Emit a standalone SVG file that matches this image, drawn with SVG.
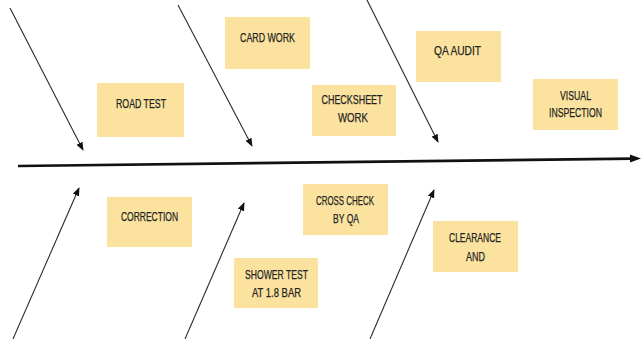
<svg xmlns="http://www.w3.org/2000/svg" width="641" height="339" viewBox="0 0 641 339">
  <style>
    .box { fill: #fbe29f; }
    .lbl { font-family: "Liberation Sans", Arial, sans-serif; font-size: 13.5px; fill: #222222; text-anchor: middle; stroke: #222222; stroke-width: 0.25; }
    .bone { stroke: #2b2b2b; stroke-width: 1.1; fill: none; marker-end: url(#tip); }
    .spine { stroke: #111; stroke-width: 2.6; fill: none; }
  </style>
  <defs>
    <marker id="tip" viewBox="0 0 10 8" refX="9" refY="4" markerWidth="8.5" markerHeight="7" markerUnits="userSpaceOnUse" orient="auto">
      <path d="M0,0 L10,4 L0,8 Z" fill="#111"/>
    </marker>
  </defs>
  <rect width="641" height="339" fill="#ffffff"/>

  <g id="connectors">
    <line class="spine" x1="18" y1="166" x2="633" y2="158.6"/>
    <path d="M630,154.5 L641,158.5 L630,162.5 Z" fill="#111"/>
    <line class="bone" x1="10" y1="8" x2="83" y2="150"/>
    <line class="bone" x1="178" y1="5" x2="252" y2="146"/>
    <line class="bone" x1="367" y1="0" x2="438" y2="142"/>
    <line class="bone" x1="13" y1="339" x2="79" y2="188"/>
    <line class="bone" x1="185" y1="339" x2="244" y2="203"/>
    <line class="bone" x1="370" y1="339" x2="434" y2="190"/>
  </g>

  <g id="road-test">
    <rect class="box" x="97" y="83" width="87" height="54"/>
    <text class="lbl" x="141" y="108" textLength="50" lengthAdjust="spacingAndGlyphs">ROAD TEST</text>
  </g>
  <g id="card-work">
    <rect class="box" x="225" y="17" width="85" height="52"/>
    <text class="lbl" x="267.5" y="42" textLength="55" lengthAdjust="spacingAndGlyphs">CARD WORK</text>
  </g>
  <g id="checksheet-work">
    <rect class="box" x="312" y="85" width="84" height="51"/>
    <text class="lbl" x="352" y="104" textLength="61" lengthAdjust="spacingAndGlyphs">CHECKSHEET</text>
    <text class="lbl" x="353" y="122" textLength="30" lengthAdjust="spacingAndGlyphs">WORK</text>
  </g>
  <g id="qa-audit">
    <rect class="box" x="416" y="31" width="85" height="51"/>
    <text class="lbl" x="457.5" y="55" textLength="47" lengthAdjust="spacingAndGlyphs">QA AUDIT</text>
  </g>
  <g id="visual-inspection">
    <rect class="box" x="533" y="79" width="85" height="51"/>
    <text class="lbl" x="575.5" y="100" textLength="31" lengthAdjust="spacingAndGlyphs">VISUAL</text>
    <text class="lbl" x="575.5" y="117" textLength="53" lengthAdjust="spacingAndGlyphs">INSPECTION</text>
  </g>
  <g id="correction">
    <rect class="box" x="107" y="197" width="85" height="50"/>
    <text class="lbl" x="149.5" y="221" textLength="57" lengthAdjust="spacingAndGlyphs">CORRECTION</text>
  </g>
  <g id="cross-check">
    <rect class="box" x="303" y="184" width="85" height="51"/>
    <text class="lbl" x="345" y="205" textLength="58" lengthAdjust="spacingAndGlyphs">CROSS CHECK</text>
    <text class="lbl" x="346" y="223" textLength="26" lengthAdjust="spacingAndGlyphs">BY QA</text>
  </g>
  <g id="shower-test">
    <rect class="box" x="234" y="258" width="84" height="50"/>
    <text class="lbl" x="276.5" y="279" textLength="63" lengthAdjust="spacingAndGlyphs">SHOWER TEST</text>
    <text class="lbl" x="276.5" y="297" textLength="49" lengthAdjust="spacingAndGlyphs">AT 1.8 BAR</text>
  </g>
  <g id="clearance">
    <rect class="box" x="433" y="221" width="85" height="51"/>
    <text class="lbl" x="475" y="242" textLength="52" lengthAdjust="spacingAndGlyphs">CLEARANCE</text>
    <text class="lbl" x="475.5" y="261" textLength="19" lengthAdjust="spacingAndGlyphs">AND</text>
  </g>
</svg>
